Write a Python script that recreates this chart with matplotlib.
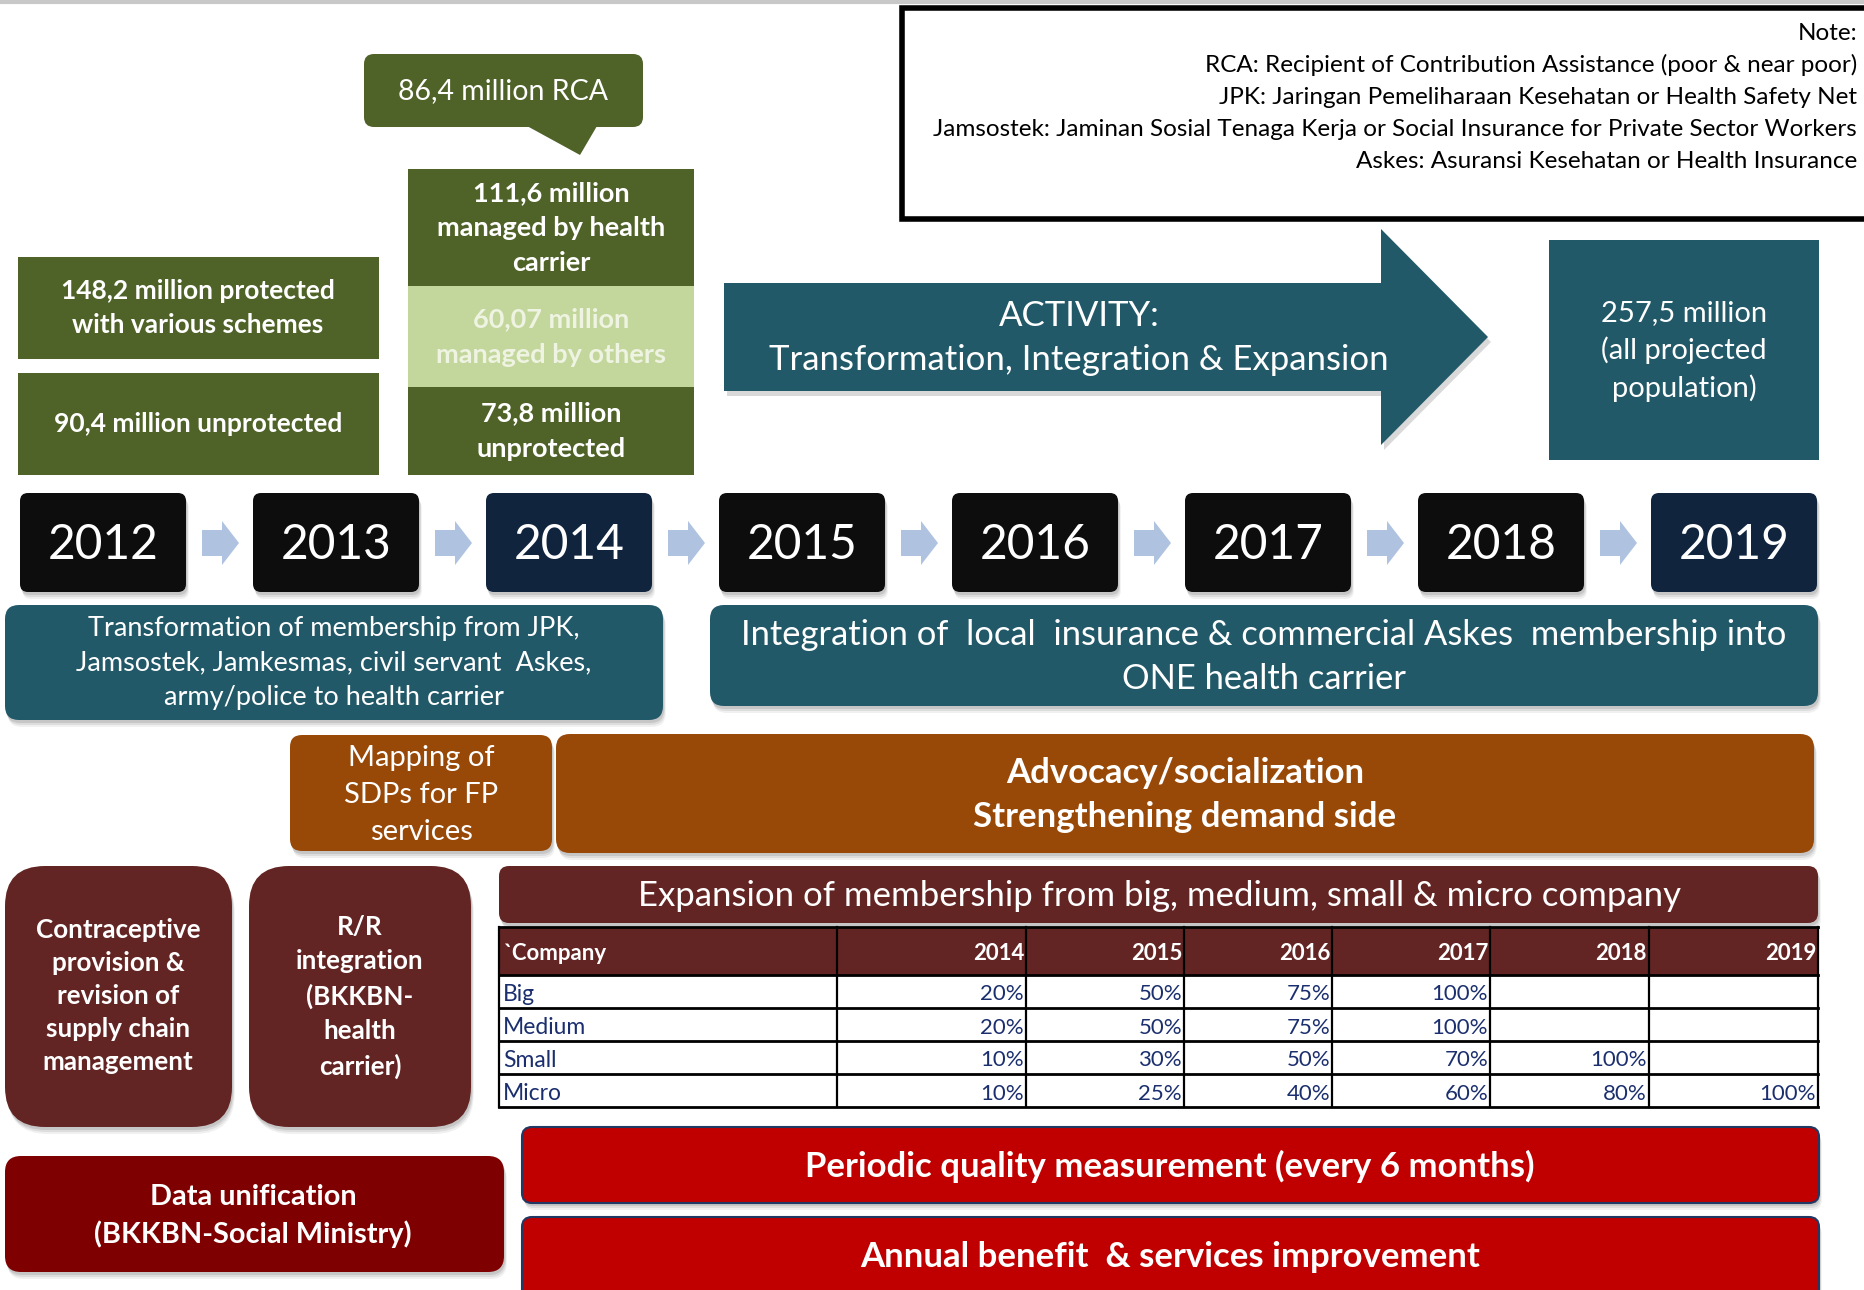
import matplotlib
matplotlib.use('Agg')
import matplotlib.pyplot as plt
from matplotlib.patches import FancyBboxPatch, Polygon, Rectangle

# ---- data ----
years = ['2012', '2013', '2014', '2015', '2016', '2017', '2018', '2019']
highlight_years = ['2014', '2019']

note_lines = ['Note:',
              'RCA: Recipient of Contribution Assistance (poor & near poor)',
              'JPK: Jaringan Pemeliharaan Kesehatan or Health Safety Net',
              'Jamsostek: Jaminan Sosial Tenaga Kerja or Social Insurance for Private Sector Workers',
              'Askes: Asuransi Kesehatan or Health Insurance']

status_2012 = ['148,2 million protected\nwith various schemes',
               '90,4 million unprotected']
status_2014 = ['111,6 million\nmanaged by health\ncarrier',
               '60,07 million\nmanaged by others',
               '73,8 million\nunprotected']
rca_label = '86,4 million RCA'
activity_label = 'ACTIVITY:\nTransformation, Integration & Expansion'
target_label = '257,5 million\n(all projected\npopulation)'

transform_label = ('Transformation of membership from JPK,\n'
                   'Jamsostek, Jamkesmas, civil servant  Askes,\n'
                   'army/police to health carrier')
integration_label = ('Integration of  local  insurance & commercial Askes  membership into\n'
                     'ONE health carrier')
mapping_label = 'Mapping of\nSDPs for FP\nservices'
advocacy_label = 'Advocacy/socialization\nStrengthening demand side'
contraceptive_label = 'Contraceptive\nprovision &\nrevision of\nsupply chain\nmanagement'
rr_label = 'R/R\nintegration\n(BKKBN-\nhealth\ncarrier)'
expansion_label = 'Expansion of membership from big, medium, small & micro company'
data_label = 'Data unification\n(BKKBN-Social Ministry)'
quality_label = 'Periodic quality measurement (every 6 months)'
benefit_label = 'Annual benefit  & services improvement'

table_years = ['2014', '2015', '2016', '2017', '2018', '2019']
company_sizes = ['Big', 'Medium', 'Small', 'Micro']
big = [20, 50, 75, 100, None, None]
medium = [20, 50, 75, 100, None, None]
small = [10, 30, 50, 70, 100, None]
micro = [10, 25, 40, 60, 80, 100]
shares = [big, medium, small, micro]

# ---- style ----
plt.rcParams['font.family'] = ['Lato', 'DejaVu Sans']
OLIVE = '#4F6228'
OLIVE_LIGHT = '#C3D69B'
TEAL = '#215968'
BLACK_BOX = '#0D0D0D'
NAVY_BOX = '#10243E'
ARROW_BLUE = '#AFC3E0'
ORANGE = '#984807'
MAROON = '#632523'
DARK_RED = '#7F0000'
RED = '#C00000'
TABLE_TEXT = '#1B2F6E'

fig = plt.figure(figsize=(18.64, 12.90), dpi=100)
ax = fig.add_axes([0, 0, 1, 1])
ax.set_xlim(0, 1864)
ax.set_ylim(1290, 0)
ax.axis('off')


def box(x0, y0, x1, y1, color, r=0, shadow=True, ec='none', lw=0, z=2):
    """ rectangle (optionally rounded) in pixel coords with soft shadow """
    if shadow:
        for k, a in [(7, 0.06), (5, 0.08), (3, 0.1)]:
            ax.add_patch(FancyBboxPatch((x0 + k * 0.4, y0 + k), x1 - x0, y1 - y0,
                                        boxstyle='round,pad=0,rounding_size=%g' % max(r, 2),
                                        fc='black', ec='none', alpha=a, zorder=z - 1))
    ax.add_patch(FancyBboxPatch((x0, y0), x1 - x0, y1 - y0,
                                boxstyle='round,pad=0,rounding_size=%g' % r,
                                fc=color, ec=ec, lw=lw, zorder=z))


def label(x, y, s, size, bold=False, color='white', ha='center', ls=1.2, z=5):
    ax.text(x, y, s, fontsize=size, fontweight='bold' if bold else 'normal',
            color=color, ha=ha, va='center', linespacing=ls, zorder=z)


# top grey rule
ax.plot([0, 1864], [2, 2], color='#C8C8C8', lw=3, zorder=1)

# note box
ax.add_patch(Rectangle((902, 8), 1000, 211, fc='white', ec='black', lw=4, zorder=2))
for i, line in enumerate(note_lines):
    label(1857, 33 + i * 32, line, 17.5, color='black', ha='right')

# 2012 status boxes
box(18, 257, 379, 359, OLIVE, shadow=False)
box(18, 373, 379, 475, OLIVE, shadow=False)
label(198, 308, status_2012[0], 19, bold=True, ls=1.46)
label(198, 424, status_2012[1], 19, bold=True)

# 2014 stacked column
box(408, 169, 694, 286, OLIVE, shadow=False)
box(408, 286, 694, 387, OLIVE_LIGHT, shadow=False)
box(408, 387, 694, 475, OLIVE, shadow=False)
label(551, 228, status_2014[0], 19.5, bold=True, ls=1.56)
label(551, 337, status_2014[1], 19.5, bold=True, color='#EEF3E2', ls=1.56)
label(551, 431, status_2014[2], 19.5, bold=True, ls=1.56)

# RCA callout
box(364, 54, 643, 127, OLIVE, r=10, shadow=False)
ax.add_patch(Polygon([(527, 126), (580, 155), (597, 126)], fc=OLIVE, ec='none', zorder=2))
label(503, 91, rca_label, 20.5)

# activity arrow
arrow_pts = [(724, 283), (1381, 283), (1381, 229), (1488, 337),
             (1381, 445), (1381, 391), (724, 391)]
ax.add_patch(Polygon([(x + 3, y + 5) for x, y in arrow_pts], fc='black', alpha=0.15, ec='none', zorder=1))
ax.add_patch(Polygon(arrow_pts, fc=TEAL, ec='none', zorder=2))
label(1079, 338, activity_label, 25, ls=1.45)

# target population box
box(1549, 240, 1819, 460, TEAL, shadow=False)
label(1684, 351, target_label, 21, ls=1.46)

# year timeline
for i, yr in enumerate(years):
    x0 = 20 + i * 233
    c = NAVY_BOX if yr in highlight_years else BLACK_BOX
    box(x0, 493, x0 + 166, 592, c, r=8)
    label(x0 + 83, 545, yr, 34.5)
    if i < len(years) - 1:
        ax0 = x0 + 182
        pts = [(ax0, 530), (ax0 + 20, 530), (ax0 + 20, 521), (ax0 + 37, 543),
               (ax0 + 20, 565), (ax0 + 20, 556), (ax0, 556)]
        ax.add_patch(Polygon(pts, fc=ARROW_BLUE, ec='none', zorder=2))

# membership phases
box(5, 605, 663, 720, TEAL, r=14)
label(334, 663, transform_label, 19.5, ls=1.49)
box(710, 605, 1818, 706, TEAL, r=14)
label(1264, 657, integration_label, 24.8, ls=1.43)

# demand side
box(290, 735, 552, 851, ORANGE, r=12)
label(421, 795, mapping_label, 21, ls=1.54)
box(556, 734, 1814, 853, ORANGE, r=14)
label(1185, 795, advocacy_label, 25, bold=True, ls=1.45)

# supply side
box(5, 866, 232, 1127, MAROON, r=40)
label(118, 996, contraceptive_label, 18.7, bold=True, ls=1.44)
box(249, 866, 471, 1127, MAROON, r=40)
label(360, 997, rr_label, 18.7, bold=True, ls=1.51)

box(499, 866, 1818, 923, MAROON, r=10)
label(1159, 896, expansion_label, 25)

# expansion table
col_edges = [499, 837, 1026, 1184, 1332, 1490, 1649, 1818]
row_edges = [927, 975, 1008, 1041, 1074, 1107]
ax.add_patch(Rectangle((499, 927), 1319, 48, fc=MAROON, ec='none', zorder=2))
ax.add_patch(Rectangle((499, 975), 1319, 132, fc='white', ec='none', zorder=2))
for x in col_edges:
    ax.plot([x, x], [927, 1107], color='black', lw=1.6, zorder=3)
for y in row_edges:
    ax.plot([499, 1818], [y, y], color='black', lw=2, zorder=3)
ax.text(503, 953, '`Company', fontsize=16, fontweight='bold', color='white',
        ha='left', va='center', zorder=5)
for j, yr in enumerate(table_years):
    ax.text(col_edges[j + 2] - 2, 953, yr, fontsize=16, fontweight='bold',
            color='white', ha='right', va='center', zorder=5)
for i, name in enumerate(company_sizes):
    yc = (row_edges[i + 1] + row_edges[i + 2]) / 2 + 3
    ax.text(503, yc, name, fontsize=16.5, color=TABLE_TEXT, ha='left', va='center', zorder=5)
    for j, v in enumerate(shares[i]):
        if v is not None:
            ax.text(col_edges[j + 2] - 2, yc, '%d%%' % v, fontsize=16,
                    color=TABLE_TEXT, ha='right', va='center', zorder=5)

# quality / benefit
box(522, 1127, 1819, 1203, RED, r=10, ec='#1F3864', lw=1.5)
label(1170, 1166, quality_label, 25, bold=True)
box(522, 1217, 1819, 1310, RED, r=10, ec='#1F3864', lw=1.5)
label(1170, 1257, benefit_label, 25, bold=True)

box(5, 1156, 504, 1272, DARK_RED, r=16)
label(253, 1216, data_label, 20.8, bold=True, ls=1.5)

fig.savefig('out.png', dpi=100)
